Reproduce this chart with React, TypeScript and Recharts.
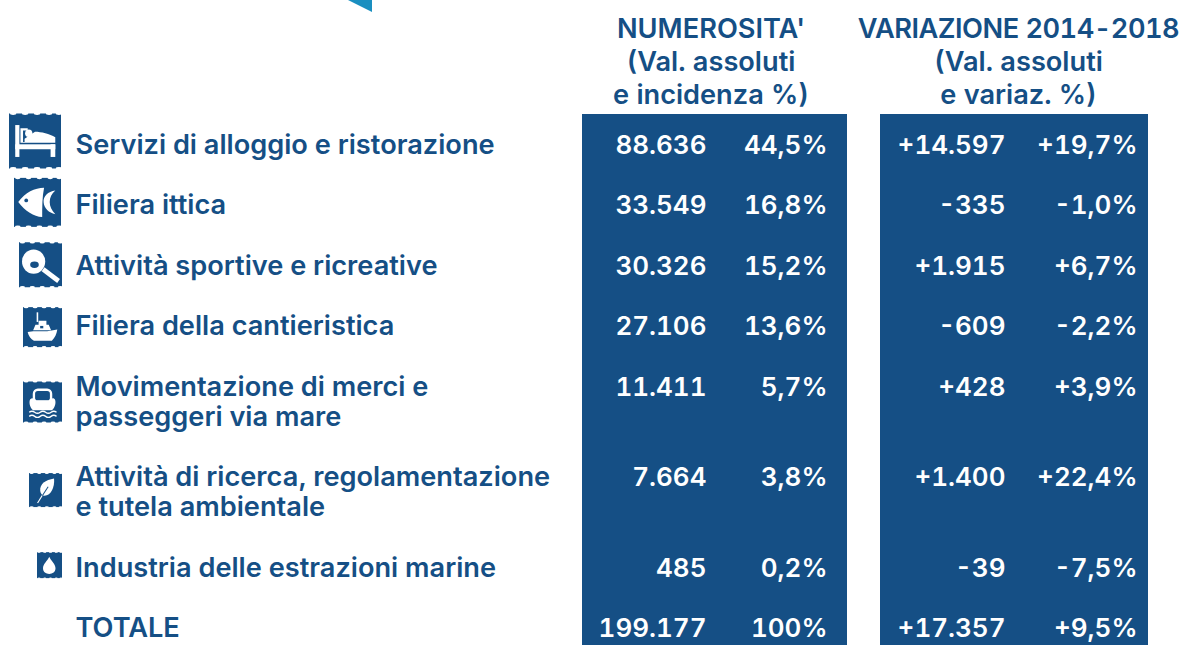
import React from 'react';
import { ScatterChart, Scatter, XAxis, YAxis, ReferenceArea } from 'recharts';

const categories = [
  ['Servizi di alloggio e ristorazione'],
  ['Filiera ittica'],
  ['Attività sportive e ricreative'],
  ['Filiera della cantieristica'],
  ['Movimentazione di merci e', 'passeggeri via mare'],
  ['Attività di ricerca, regolamentazione', 'e tutela ambientale'],
  ['Industria delle estrazioni marine'],
  ['TOTALE'],
];
const rowIndex = [0, 1, 2, 3, 4, 5.5, 7, 8];
const numerosita = ['88.636', '33.549', '30.326', '27.106', '11.411', '7.664', '485', '199.177'];
const incidenza = ['44,5%', '16,8%', '15,2%', '13,6%', '5,7%', '3,8%', '0,2%', '100%'];
const variazione = ['+14.597', '-335', '+1.915', '-609', '+428', '+1.400', '-39', '+17.357'];
const variazionePct = ['+19,7%', '-1,0%', '+6,7%', '-2,2%', '+3,9%', '+22,4%', '-7,5%', '+9,5%'];
const headerLeft = ["NUMEROSITA'", '(Val. assoluti', 'e incidenza %)'];
const headerRight = ['VARIAZIONE 2014-2018', '(Val. assoluti', 'e variaz. %)'];
const headerRows = [-1.92, -1.375, -0.83];

const BLUE = '#154f85';
const FONT = 'Inter, "Noto Sans", sans-serif';
const LABEL_SIZE = 27.2;
const VALUE_SIZE = 26;

// icon boxes: centre x, offset from row centre, width, height
const iconBoxes = [
  { cx: 35, dy: -3, w: 52, h: 55 },
  { cx: 37.5, dy: -2, w: 47, h: 49 },
  { cx: 40.5, dy: 0, w: 43, h: 45 },
  { cx: 42.5, dy: 2, w: 39, h: 40 },
  { cx: 42.5, dy: 16.5, w: 39, h: 41 },
  { cx: 45.5, dy: 14, w: 33, h: 34 },
  { cx: 49.5, dy: -1.5, w: 25, h: 26 },
];

const glyphs = [
  // bed
  <g key="bed" fill="#fff">
    <rect x="12" y="21" width="8" height="58" />
    <rect x="12" y="56" width="77" height="9" />
    <rect x="80" y="56" width="9" height="23" />
    <circle cx="38" cy="36" r="7" />
    <path d="M30 52 V46 L50 33 C62 33 78 37 89 43 V53 H22 V27 H36 V31 H27 V52Z" />
  </g>,
  // fish
  <g key="fish">
    <path d="M9 49 C24 30 44 20 64 20 C60 38 60 60 60 80 C42 78 24 68 9 49Z" fill="#fff" />
    <path d="M88 26 C72 28 62 38 63 50 C64 62 74 72 88 74 C80 66 76 58 76 49 C76 41 80 32 88 26Z" fill="#fff" />
    <circle cx="26" cy="46" r="4" fill={BLUE} />
  </g>,
  // racket
  <g key="racket">
    <circle cx="34" cy="43" r="27" fill="#fff" />
    <line x1="56" y1="60" x2="92" y2="86" stroke="#fff" strokeWidth="11" />
    <ellipse cx="36" cy="50" rx="10" ry="7" fill={BLUE} />
  </g>,
  // ship
  <g key="ship" fill="#fff">
    <path d="M12 62 L26 60 H62 L88 56 C86 68 82 76 74 84 H28 C20 80 14 72 12 62Z" />
    <path d="M26 58 L32 44 H40 V34 H60 V44 H66 L72 58Z" />
    <rect x="35" y="13" width="4" height="24" />
    <rect x="44" y="47" width="8" height="6" fill={BLUE} />
  </g>,
  // ferry
  <g key="ferry">
    <rect x="28" y="20" width="44" height="30" rx="10" fill="none" stroke="#fff" strokeWidth="6" />
    <path d="M18 44 C24 38 30 42 34 46 H66 C70 42 78 38 82 44 C86 54 80 66 74 70 H26 C20 66 14 54 18 44Z" fill="#fff" />
    <path d="M16 75 Q23 70 30 75 T44 75 T58 75 T72 75 T86 75" fill="none" stroke="#fff" strokeWidth="3.5" />
    <path d="M16 85 Q23 80 30 85 T44 85 T58 85 T72 85 T86 85" fill="none" stroke="#fff" strokeWidth="3.5" />
  </g>,
  // leaf
  <g key="leaf">
    <path d="M76 16 C50 20 32 32 34 52 C35 60 40 67 47 67 C67 66 78 42 76 16Z" fill="#fff" />
    <line x1="26" y1="88" x2="58" y2="40" stroke={BLUE} strokeWidth="3" />
    <line x1="26" y1="88" x2="40" y2="66" stroke="#fff" strokeWidth="3.5" />
  </g>,
  // drop
  <path key="drop" d="M49 18 C56 34 74 46 74 62 C74 76 62 84 49 84 C36 84 24 76 24 62 C24 46 42 34 49 18Z" fill="#fff" />,
];

const bodyRows = rowIndex.map((y, i) => ({ y, i }));

function cells(list: string[], x: number) {
  return rowIndex.map((y, i) => ({ x, y, label: list[i] }));
}

const labelData = rowIndex.map((y, i) => ({ x: 75.5, y, lines: categories[i] }));
const valueData = [
  ...cells(numerosita, 706.5),
  ...cells(incidenza, 827.5),
  ...cells(variazione, 1005.5),
  ...cells(variazionePct, 1137.5),
];
const headerData = [
  ...headerLeft.map((label, i) => ({ x: 711, y: headerRows[i], label })),
  ...headerRight.map((label, i) => ({ x: 1018.5, y: headerRows[i], label })),
];

const CategoryCell = ({ cx, cy, payload }: any) => (
  <text x={cx} y={cy} fontFamily={FONT} fontSize={LABEL_SIZE} fontWeight={600} fill={BLUE}>
    {payload.lines.map((line: string, k: number) => (
      <tspan key={k} x={cx} y={cy + 10 + k * 30}>{line}</tspan>
    ))}
  </text>
);

const ValueCell = ({ cx, cy, payload }: any) => (
  <text
    x={cx}
    y={cy + 10}
    textAnchor="end"
    fontFamily={FONT}
    fontSize={VALUE_SIZE}
    fontWeight={600}
    fill="#fff"
    style={{ fontVariantNumeric: 'tabular-nums' }}
  >
    {payload.label}
  </text>
);

const HeaderCell = ({ cx, cy, payload }: any) => (
  <text
    x={cx}
    y={cy + 10}
    textAnchor="middle"
    fontFamily={FONT}
    fontSize={LABEL_SIZE}
    fontWeight={600}
    fill={BLUE}
    letterSpacing={payload.label.length > 15 ? -0.5 : 0}
    style={{ fontVariantNumeric: 'tabular-nums' }}
  >
    {payload.label}
  </text>
);

const IconCell = ({ cy, payload }: any) => {
  const box = iconBoxes[payload.i];
  if (!box) return null;
  const sx = box.w / 100;
  const sy = box.h / 100;
  const notches = [8, 31, 54, 77, 96];
  return (
    <g transform={`translate(${box.cx - box.w / 2} ${cy + box.dy - box.h / 2}) scale(${sx} ${sy})`}>
      <rect x="0" y="0" width="100" height="100" fill={BLUE} />
      {notches.map((n) => (
        <g key={n} fill="#fff">
          <ellipse cx={n} cy="0" rx="6" ry="2.6" />
          <ellipse cx={n} cy="100" rx="6" ry="2.6" />
        </g>
      ))}
      {glyphs[payload.i]}
    </g>
  );
};

const Corner = ({ cx, cy }: any) => (
  <polygon points={`${cx - 24},${cy} ${cx},${cy} ${cx},${cy + 12}`} fill="#1a8fc0" />
);

export default function App() {
  return (
    <div style={{ position: 'absolute', left: 0, top: 0 }}>
      <ScatterChart width={1183} height={645} margin={{ top: 0, right: 0, bottom: 0, left: 0 }}>
        <XAxis type="number" dataKey="x" domain={[0, 1183]} hide />
        <YAxis type="number" dataKey="y" domain={[-2.385, 8.298]} reversed hide />
        <ReferenceArea x1={582} x2={847} y1={-0.497} y2={8.298} fill={BLUE} fillOpacity={1} stroke="none" />
        <ReferenceArea x1={880} x2={1148} y1={-0.497} y2={8.298} fill={BLUE} fillOpacity={1} stroke="none" />
        <Scatter data={[{ x: 372, y: -2.385 }]} shape={<Corner />} isAnimationActive={false} />
        <Scatter data={bodyRows.slice(0, 7).map((r) => ({ ...r, x: 40 }))} shape={<IconCell />} isAnimationActive={false} />
        <Scatter data={labelData} shape={<CategoryCell />} isAnimationActive={false} />
        <Scatter data={headerData} shape={<HeaderCell />} isAnimationActive={false} />
        <Scatter data={valueData} shape={<ValueCell />} isAnimationActive={false} />
      </ScatterChart>
    </div>
  );
}
